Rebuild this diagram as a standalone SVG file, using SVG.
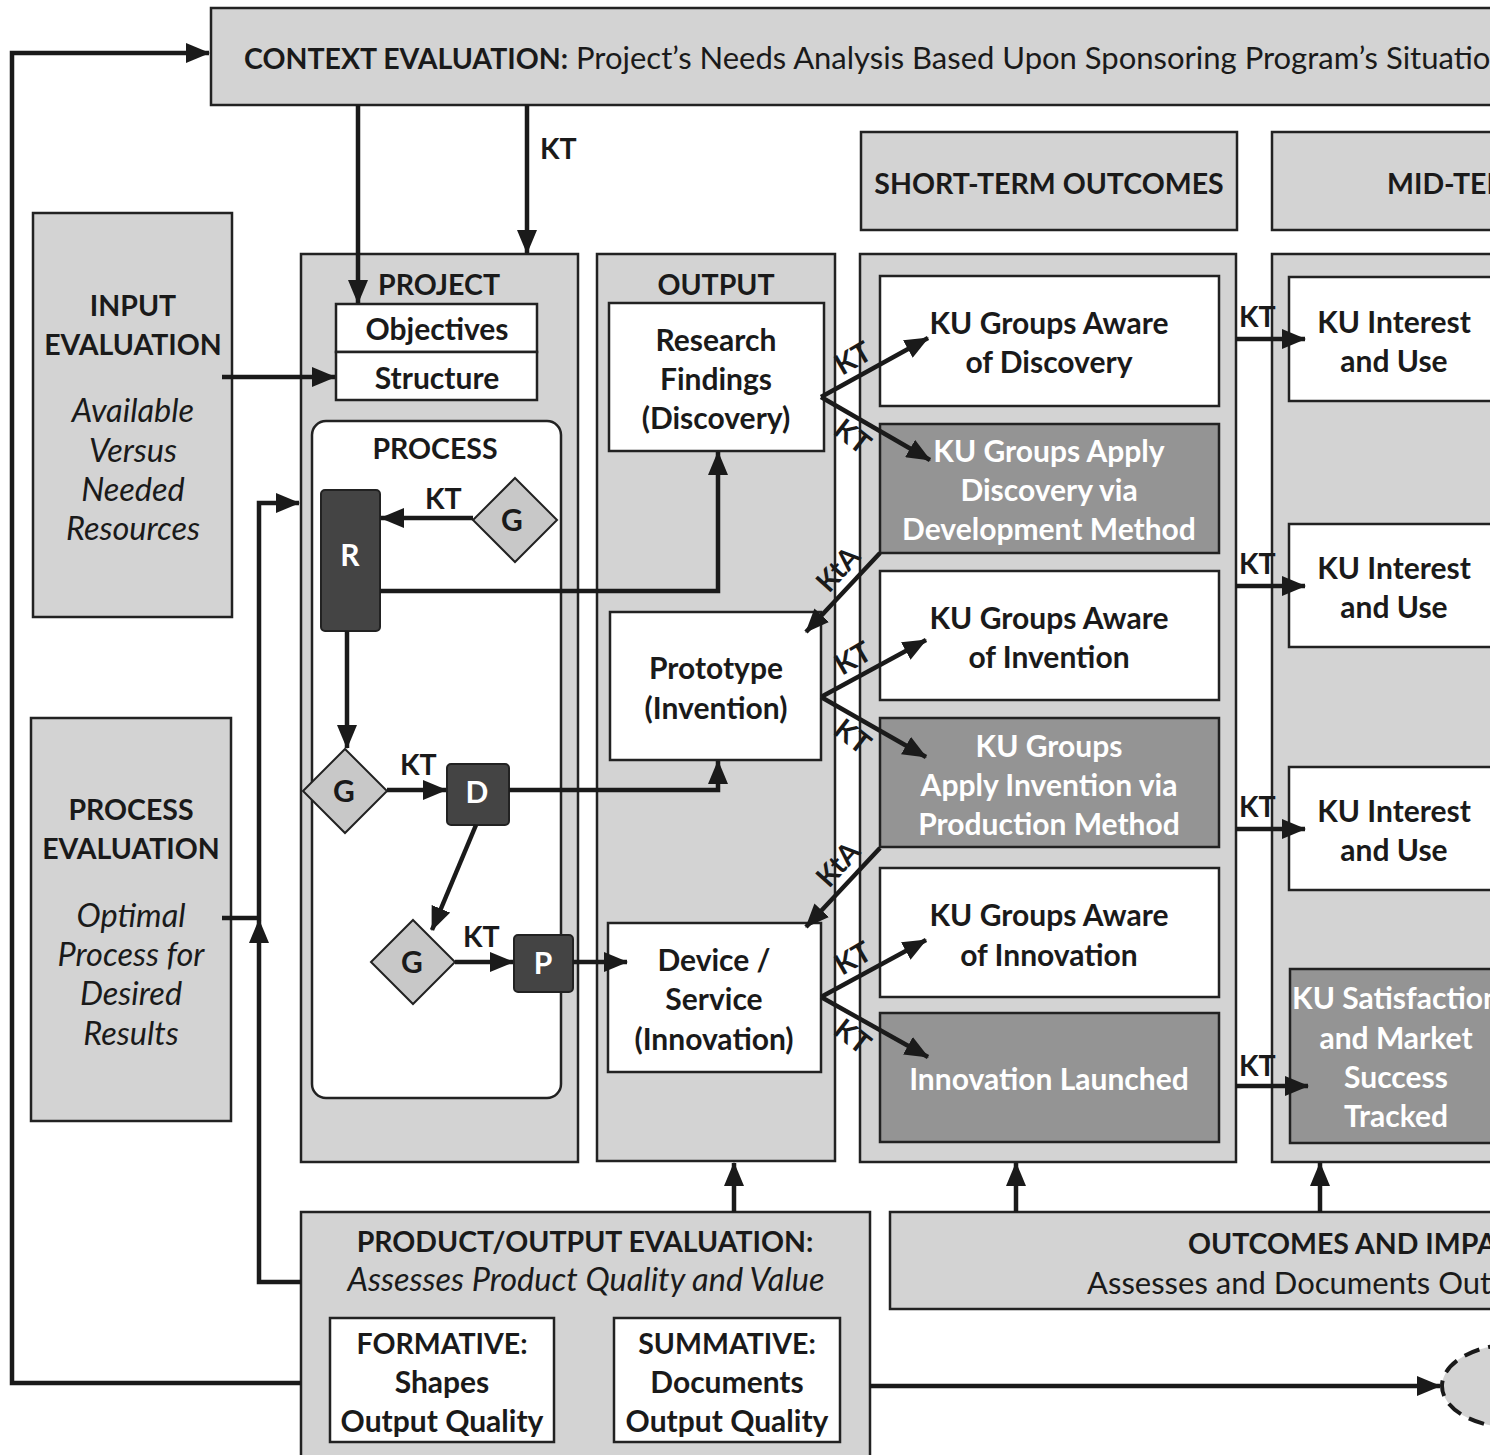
<svg xmlns="http://www.w3.org/2000/svg" width="1490" height="1455" viewBox="0 0 1490 1455">
<defs>
<marker id="ah" viewBox="0 0 24 20" refX="23" refY="10" markerWidth="24" markerHeight="20" markerUnits="userSpaceOnUse" orient="auto"><path d="M0,0 L24,10 L0,20 z" fill="#1a1a1a"/></marker>
<style>
.lg{fill:#d3d3d3;stroke:#222;stroke-width:2.5}
.wh{fill:#fff;stroke:#222;stroke-width:2.5}
.dk{fill:#444;stroke:#222;stroke-width:2}
.md{fill:#949494;stroke:#222;stroke-width:2.5}
.dm{fill:#c8c8c8;stroke:#222;stroke-width:2}
.ca{fill:none;stroke:#1a1a1a;stroke-width:4.5;marker-end:url(#ah)}
text{font-family:Lato,"Open Sans","Liberation Sans",sans-serif;font-size:30px;fill:#1a1a1a}
.b{font-weight:700}
.cp{font-weight:700;font-size:28.5px}
.m{text-anchor:middle}
.i{font-style:italic;font-size:32.5px}
.r{font-size:31px}
.w{fill:#fff}
</style>
</defs>

<g id="context-evaluation">
<rect class="lg" x="211" y="8" width="1300" height="97"/>
<text x="244" y="69"><tspan class="cp">CONTEXT EVALUATION:</tspan><tspan class="r"> Project’s Needs Analysis Based Upon Sponsoring Program’s Situation</tspan></text>
</g>

<g id="input-evaluation">
<rect class="lg" x="33" y="213" width="199" height="404"/>
<text class="cp m" x="133" y="316">INPUT</text>
<text class="cp m" x="133" y="355">EVALUATION</text>
<text class="i m" x="133" y="422">Available</text>
<text class="i m" x="133" y="462">Versus</text>
<text class="i m" x="133" y="501">Needed</text>
<text class="i m" x="133" y="540">Resources</text>
</g>

<g id="process-evaluation">
<rect class="lg" x="31" y="718" width="200" height="403"/>
<text class="cp m" x="131" y="820">PROCESS</text>
<text class="cp m" x="131" y="859">EVALUATION</text>
<text class="i m" x="131" y="927">Optimal</text>
<text class="i m" x="131" y="966">Process for</text>
<text class="i m" x="131" y="1005">Desired</text>
<text class="i m" x="131" y="1045">Results</text>
</g>

<g id="project">
<rect class="lg" x="301" y="254" width="277" height="908"/>
<text class="cp m" x="439" y="295">PROJECT</text>
</g>
<g id="objectives">
<rect class="wh" x="336" y="304" width="201" height="48"/>
<text class="b m" x="437" y="340">Objectives</text>
</g>
<g id="structure">
<rect class="wh" x="336" y="352" width="201" height="48"/>
<text class="b m" x="437" y="389">Structure</text>
</g>
<g id="process">
<rect class="wh" x="312" y="421" width="249" height="677" rx="14"/>
<text class="cp m" x="435" y="459">PROCESS</text>
</g>
<g id="r">
<rect class="dk" x="321" y="490" width="59" height="141" rx="4"/>
<text class="b m w" x="350" y="566">R</text>
</g>
<g id="g1">
<polygon class="dm" points="515,478 557,520 515,562 473,520"/>
<text class="b m" x="512" y="531">G</text>
</g>
<g id="g2">
<polygon class="dm" points="345,749 387,791 345,833 303,791"/>
<text class="b m" x="344" y="802">G</text>
</g>
<g id="d">
<rect class="dk" x="447" y="764" width="62" height="61" rx="4"/>
<text class="b m w" x="477" y="803">D</text>
</g>
<g id="g3">
<polygon class="dm" points="413,920 455,962 413,1004 371,962"/>
<text class="b m" x="412" y="973">G</text>
</g>
<g id="p">
<rect class="dk" x="514" y="935" width="59" height="57" rx="4"/>
<text class="b m w" x="543" y="974">P</text>
</g>

<g id="output">
<rect class="lg" x="597" y="254" width="238" height="907"/>
<text class="cp m" x="716" y="295">OUTPUT</text>
</g>
<g id="research-findings">
<rect class="wh" x="609" y="303" width="215" height="148"/>
<text class="b m" x="716" y="351">Research</text>
<text class="b m" x="716" y="390">Findings</text>
<text class="b m" x="716" y="429">(Discovery)</text>
</g>
<g id="prototype">
<rect class="wh" x="610" y="612" width="211" height="148"/>
<text class="b m" x="716" y="679">Prototype</text>
<text class="b m" x="716" y="719">(Invention)</text>
</g>
<g id="device">
<rect class="wh" x="608" y="923" width="213" height="149"/>
<text class="b m" x="714" y="971">Device /</text>
<text class="b m" x="714" y="1010">Service</text>
<text class="b m" x="714" y="1050">(Innovation)</text>
</g>

<g id="short-term-header">
<rect class="lg" x="861" y="132" width="376" height="98"/>
<text class="cp m" x="1049" y="194">SHORT-TERM OUTCOMES</text>
</g>
<g id="mid-term-header">
<rect class="lg" x="1272" y="132" width="260" height="98"/>
<text class="cp" x="1387" y="194">MID-TERM OUTCOMES</text>
</g>

<g id="short-term">
<rect class="lg" x="860" y="254" width="376" height="908"/>
</g>
<g id="aware-discovery">
<rect class="wh" x="880" y="276" width="339" height="130"/>
<text class="b m" x="1049" y="334">KU Groups Aware</text>
<text class="b m" x="1049" y="373">of Discovery</text>
</g>
<g id="apply-discovery">
<rect class="md" x="880" y="424" width="339" height="129"/>
<text class="b m w" x="1049" y="462">KU Groups Apply</text>
<text class="b m w" x="1049" y="501">Discovery via</text>
<text class="b m w" x="1049" y="540">Development Method</text>
</g>
<g id="aware-invention">
<rect class="wh" x="880" y="571" width="339" height="129"/>
<text class="b m" x="1049" y="629">KU Groups Aware</text>
<text class="b m" x="1049" y="668">of Invention</text>
</g>
<g id="apply-invention">
<rect class="md" x="880" y="718" width="339" height="129"/>
<text class="b m w" x="1049" y="757">KU Groups</text>
<text class="b m w" x="1049" y="796">Apply Invention via</text>
<text class="b m w" x="1049" y="835">Production Method</text>
</g>
<g id="aware-innovation">
<rect class="wh" x="880" y="868" width="339" height="129"/>
<text class="b m" x="1049" y="926">KU Groups Aware</text>
<text class="b m" x="1049" y="966">of Innovation</text>
</g>
<g id="innovation-launched">
<rect class="md" x="880" y="1013" width="339" height="129"/>
<text class="b m w" x="1049" y="1090">Innovation Launched</text>
</g>

<g id="mid-term">
<rect class="lg" x="1272" y="254" width="260" height="908"/>
</g>
<g id="interest-1">
<rect class="wh" x="1289" y="277" width="240" height="124"/>
<text class="b m" x="1394" y="333">KU Interest</text>
<text class="b m" x="1394" y="372">and Use</text>
</g>
<g id="interest-2">
<rect class="wh" x="1289" y="524" width="240" height="123"/>
<text class="b m" x="1394" y="579">KU Interest</text>
<text class="b m" x="1394" y="618">and Use</text>
</g>
<g id="interest-3">
<rect class="wh" x="1289" y="767" width="240" height="123"/>
<text class="b m" x="1394" y="822">KU Interest</text>
<text class="b m" x="1394" y="861">and Use</text>
</g>
<g id="satisfaction">
<rect class="md" x="1290" y="969" width="240" height="174"/>
<text class="b m w" x="1396" y="1009">KU Satisfaction</text>
<text class="b m w" x="1396" y="1049">and Market</text>
<text class="b m w" x="1396" y="1088">Success</text>
<text class="b m w" x="1396" y="1127">Tracked</text>
</g>

<g id="product-output-evaluation">
<rect class="lg" x="301" y="1212" width="569" height="250"/>
<text class="cp m" x="585" y="1252">PRODUCT/OUTPUT EVALUATION:</text>
<text class="i m" x="586" y="1291">Assesses Product Quality and Value</text>
</g>
<g id="formative">
<rect class="wh" x="330" y="1318" width="224" height="124"/>
<text class="cp m" x="442" y="1354">FORMATIVE:</text>
<text class="b m" x="442" y="1393">Shapes</text>
<text class="b m" x="442" y="1432">Output Quality</text>
</g>
<g id="summative">
<rect class="wh" x="614" y="1318" width="226" height="124"/>
<text class="cp m" x="727" y="1354">SUMMATIVE:</text>
<text class="b m" x="727" y="1393">Documents</text>
<text class="b m" x="727" y="1432">Output Quality</text>
</g>
<g id="outcomes-impact-evaluation">
<rect class="lg" x="890" y="1212" width="640" height="97"/>
<text class="cp" x="1188" y="1254">OUTCOMES AND IMPACT EVALUATION:</text>
<text class="r" x="1087" y="1294">Assesses and Documents Outcomes and Impacts</text>
</g>
<g id="next-node">
<ellipse cx="1516" cy="1386" rx="74" ry="42" fill="#d3d3d3" stroke="#1a1a1a" stroke-width="4" stroke-dasharray="16 9"/>
</g>

<g id="connectors">
<polyline class="ca" points="301,1383 12,1383 12,53 209,53"/>
<line class="ca" x1="358" y1="105" x2="358" y2="303"/>
<line class="ca" x1="527" y1="105" x2="527" y2="253"/>
<line class="ca" x1="222" y1="377" x2="335" y2="377"/>
<polyline class="ca" points="222,918 259,918 259,503 299,503"/>
<polyline class="ca" points="301,1282 259,1282 259,920"/>
<line class="ca" x1="473" y1="518" x2="381" y2="518"/>
<polyline class="ca" points="380,591 718,591 718,452"/>
<line class="ca" x1="347" y1="631" x2="347" y2="748"/>
<line class="ca" x1="387" y1="790" x2="446" y2="790"/>
<polyline class="ca" points="509,790 718,790 718,761"/>
<line class="ca" x1="476" y1="825" x2="432" y2="930"/>
<line class="ca" x1="455" y1="962" x2="513" y2="962"/>
<line class="ca" x1="573" y1="962" x2="627" y2="962"/>
<line class="ca" x1="821" y1="397" x2="928" y2="338"/>
<line class="ca" x1="821" y1="397" x2="930" y2="460"/>
<line class="ca" x1="880" y1="553" x2="806" y2="632"/>
<line class="ca" x1="821" y1="697" x2="926" y2="640"/>
<line class="ca" x1="821" y1="697" x2="926" y2="757"/>
<line class="ca" x1="880" y1="848" x2="806" y2="927"/>
<line class="ca" x1="821" y1="997" x2="926" y2="940"/>
<line class="ca" x1="821" y1="997" x2="928" y2="1057"/>
<line class="ca" x1="1236" y1="339" x2="1305" y2="339"/>
<line class="ca" x1="1236" y1="586" x2="1305" y2="586"/>
<line class="ca" x1="1236" y1="829" x2="1305" y2="829"/>
<line class="ca" x1="1236" y1="1086" x2="1308" y2="1086"/>
<line class="ca" x1="734" y1="1212" x2="734" y2="1163"/>
<line class="ca" x1="1016" y1="1212" x2="1016" y2="1163"/>
<line class="ca" x1="1320" y1="1212" x2="1320" y2="1163"/>
<line class="ca" x1="870" y1="1386" x2="1440" y2="1386"/>
<text class="cp" x="540" y="159">KT</text>
<text class="cp" x="425" y="509">KT</text>
<text class="cp" x="400" y="775">KT</text>
<text class="cp" x="463" y="947">KT</text>
<text class="cp" x="1239" y="327">KT</text>
<text class="cp" x="1239" y="574">KT</text>
<text class="cp" x="1239" y="817">KT</text>
<text class="cp" x="1239" y="1076">KT</text>
<text class="cp" transform="translate(842,376) rotate(-30)">KT</text>
<text class="cp" transform="translate(832,433) rotate(38)">KT</text>
<text class="cp" transform="translate(829,594) rotate(-48)">KtA</text>
<text class="cp" transform="translate(842,676) rotate(-30)">KT</text>
<text class="cp" transform="translate(832,733) rotate(38)">KT</text>
<text class="cp" transform="translate(829,889) rotate(-48)">KtA</text>
<text class="cp" transform="translate(842,976) rotate(-30)">KT</text>
<text class="cp" transform="translate(832,1033) rotate(38)">KT</text>
</g>
</svg>
